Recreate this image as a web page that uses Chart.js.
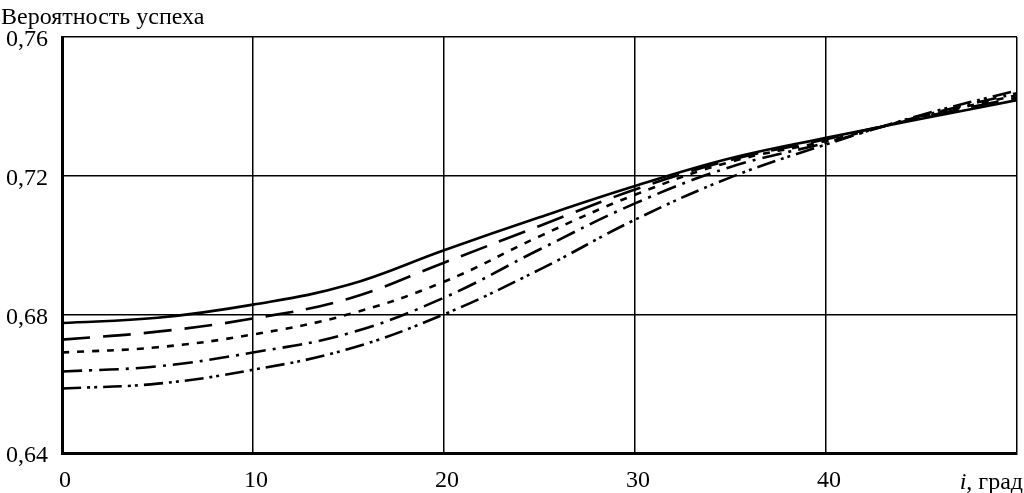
<!DOCTYPE html>
<html>
<head>
<meta charset="utf-8">
<script src="https://cdn.jsdelivr.net/npm/chart.js@4"></script>
<style>
  html, body { margin: 0; padding: 0; background: #fff; }
  #wrap { width: 1024px; height: 493px; }
</style>
</head>
<body>
<div id="wrap"><canvas id="chart" width="1024" height="493"></canvas></div>
<script>
// значения
const angles = [0, 5, 10, 15, 20, 25, 30, 35, 40, 45, 50];
const curve1 = [0.6775, 0.679, 0.6828, 0.6885, 0.6985, 0.708, 0.717, 0.725, 0.7309, 0.7364, 0.7418];
const curve2 = [0.6727, 0.675, 0.6788, 0.6845, 0.6949, 0.7055, 0.716, 0.7245, 0.7305, 0.7368, 0.7425];
const curve3 = [0.669, 0.6705, 0.6742, 0.68, 0.6894, 0.7025, 0.7145, 0.724, 0.730, 0.737, 0.7432];
const curve4 = [0.6635, 0.665, 0.669, 0.6745, 0.6848, 0.6987, 0.712, 0.7225, 0.7295, 0.7372, 0.7438];
const curve5 = [0.6586, 0.66, 0.664, 0.670, 0.680, 0.6929, 0.7073, 0.7195, 0.729, 0.7375, 0.7446];
const yTicks = [0.64, 0.68, 0.72, 0.76];

const FONT = "'Liberation Serif', 'Times New Roman', serif";
const SIZE = 24;

function toPoints(arr) {
  return arr.map((v, i) => ({ x: angles[i], y: v }));
}

function line(values, dash) {
  return {
    data: toPoints(values),
    borderColor: "#000",
    borderWidth: 2.6,
    borderDash: dash,
    borderCapStyle: "butt",
    pointRadius: 0,
    fill: false,
    tension: 0.4
  };
}

// подписи: заголовок оси Y и "i, град"
const labelsPlugin = {
  id: "labels",
  afterDraw(chart) {
    const ctx = chart.ctx;
    ctx.save();
    ctx.fillStyle = "#000";
    ctx.textBaseline = "alphabetic";
    ctx.textAlign = "left";
    ctx.font = SIZE + "px " + FONT;
    ctx.fillText("Вероятность успеха", 1, 24);

    const y = 489;
    ctx.font = "italic " + SIZE + "px " + FONT;
    const iw = ctx.measureText("i").width;
    ctx.font = SIZE + "px " + FONT;
    const rest = ", град";
    const rw = ctx.measureText(rest).width;
    const x0 = 1023 - iw - rw;
    ctx.font = "italic " + SIZE + "px " + FONT;
    ctx.fillText("i", x0, y);
    ctx.font = SIZE + "px " + FONT;
    ctx.fillText(rest, x0 + iw, y);
    ctx.restore();
  }
};

new Chart(document.getElementById("chart"), {
  type: "line",
  data: {
    datasets: [
      line(curve1, []),
      line(curve2, [28, 13]),
      line(curve3, [7, 8]),
      line(curve4, [20, 7, 3, 7]),
      line(curve5, [19, 6, 3, 4, 3, 6])
    ]
  },
  options: {
    responsive: false,
    animation: false,
    layout: { padding: { top: 37, right: 7, left: 0, bottom: 0 } },
    plugins: {
      legend: { display: false },
      title: { display: false },
      tooltip: { enabled: false }
    },
    scales: {
      x: {
        type: "linear",
        min: 0,
        max: 50,
        afterFit(scale) {
          scale.height = 40;
          scale.paddingLeft = 0;
          scale.paddingRight = 0;
        },
        ticks: {
          stepSize: 10,
          padding: 13,
          labelOffset: 3,
          color: "#000",
          font: { family: FONT, size: SIZE },
          callback: v => (v === 50 ? "" : String(v))
        },
        grid: { color: "#000", lineWidth: 1.5, drawTicks: false },
        border: { color: "#000", width: 3 }
      },
      y: {
        min: 0.64,
        max: 0.76,
        afterFit(scale) { scale.width = 62; },
        afterBuildTicks(scale) {
          scale.ticks = yTicks.map(v => ({ value: v }));
        },
        ticks: {
          padding: 14,
          labelOffset: 3,
          color: "#000",
          font: { family: FONT, size: SIZE },
          callback: v => v.toFixed(2).replace(".", ",")
        },
        grid: { color: "#000", lineWidth: 1.5, drawTicks: false },
        border: { color: "#000", width: 3 }
      }
    }
  },
  plugins: [labelsPlugin]
});
</script>
</body>
</html>
